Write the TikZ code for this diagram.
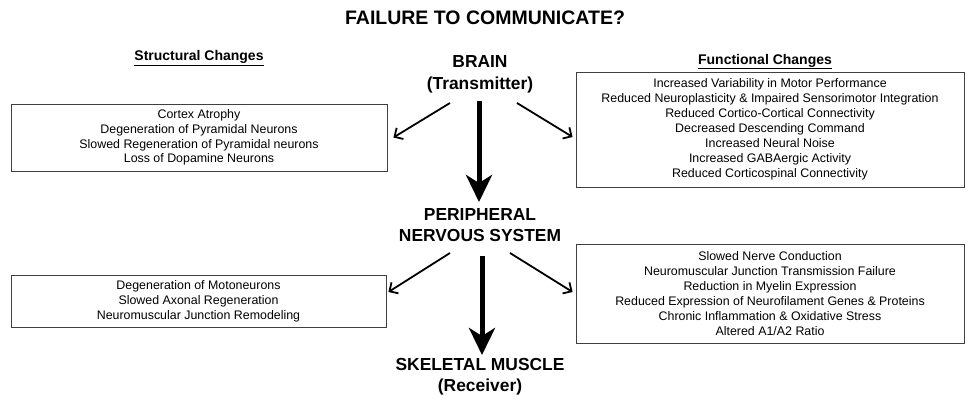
\documentclass[tikz,border=0pt]{standalone}
\usepackage{fontspec}
\setmainfont{Liberation Sans}
\usetikzlibrary{arrows.meta}
\begin{document}
\begin{tikzpicture}[x=1pt,y=-1pt,
  lbl/.style={font=\bfseries\fontsize{17.4}{21.5}\selectfont, align=center, inner sep=0pt},
  hdr/.style={font=\bfseries\fontsize{14}{16}\selectfont, inner sep=0pt},
  infobox/.style={draw=black!75, line width=0.8pt, align=center, inner sep=0pt, font=\fontsize{12.4}{15}\selectfont},
  thinarr/.style={line width=1.8pt, -{Straight Barb[length=6.5pt,width=13pt]}},
  thickarr/.style={line width=5pt, -{Stealth[length=27pt,width=26pt,inset=8pt]}}
]
\useasboundingbox (0,0) rectangle (968,403);
\node[font=\bfseries\fontsize{19.5}{22}\selectfont, inner sep=0pt] (title) at (485,17.5) {FAILURE TO COMMUNICATE?};

\node[hdr] (shdr) at (199,58) {\underline{Structural Changes}};
\node[hdr] (fhdr) at (765,61.5) {\underline{Functional Changes}};

\node[lbl] (brain) at (480,74.5) {BRAIN\\(Transmitter)};
\node[lbl] (pns) at (480,225) {PERIPHERAL\\NERVOUS SYSTEM};
\node[lbl] (muscle) at (480,376.5) {SKELETAL MUSCLE\\(Receiver)};

\node[infobox, minimum width=376pt, minimum height=67pt, font=\fontsize{12.4}{14.6}\selectfont] (sbox1) at (199,137.5)
  {Cortex Atrophy\\Degeneration of Pyramidal Neurons\\Slowed Regeneration of Pyramidal neurons\\Loss of Dopamine Neurons};
\node[infobox, minimum width=388pt, minimum height=115pt] (fbox1) at (770,129.5)
  {Increased Variability in Motor Performance\\Reduced Neuroplasticity \& Impaired Sensorimotor Integration\\Reduced Cortico-Cortical Connectivity\\Decreased Descending Command\\Increased Neural Noise\\Increased GABAergic Activity\\Reduced Corticospinal Connectivity};
\node[infobox, minimum width=375pt, minimum height=52pt] (sbox2) at (198.5,301)
  {Degeneration of Motoneurons\\Slowed Axonal Regeneration\\Neuromuscular Junction Remodeling};
\node[infobox, minimum width=388pt, minimum height=99pt] (fbox2) at (770,293.5)
  {Slowed Nerve Conduction\\Neuromuscular Junction Transmission Failure\\Reduction in Myelin Expression\\Reduced Expression of Neurofilament Genes \& Proteins\\Chronic Inflammation \& Oxidative Stress\\Altered A1/A2 Ratio};

\draw[thinarr] ([shift={(-30,28.5)}]brain.center) -- ([xshift=6pt]sbox1.east);
\draw[thinarr] ([shift={(37,28.5)}]brain.center) -- ([shift={(-3,7.5)}]fbox1.west);
\draw[thickarr] ([shift={(-1,26.5)}]brain.center) -- ([shift={(-1,-23)}]pns.center);

\draw[thinarr] ([shift={(-30,28)}]pns.center) -- ([shift={(2,-9)}]sbox2.east);
\draw[thinarr] ([shift={(30,28)}]pns.center) -- ([shift={(-3,-1.5)}]fbox2.west);
\draw[thickarr] ([shift={(2,31)}]pns.center) -- ([shift={(2,-21.5)}]muscle.center);
\end{tikzpicture}
\end{document}
